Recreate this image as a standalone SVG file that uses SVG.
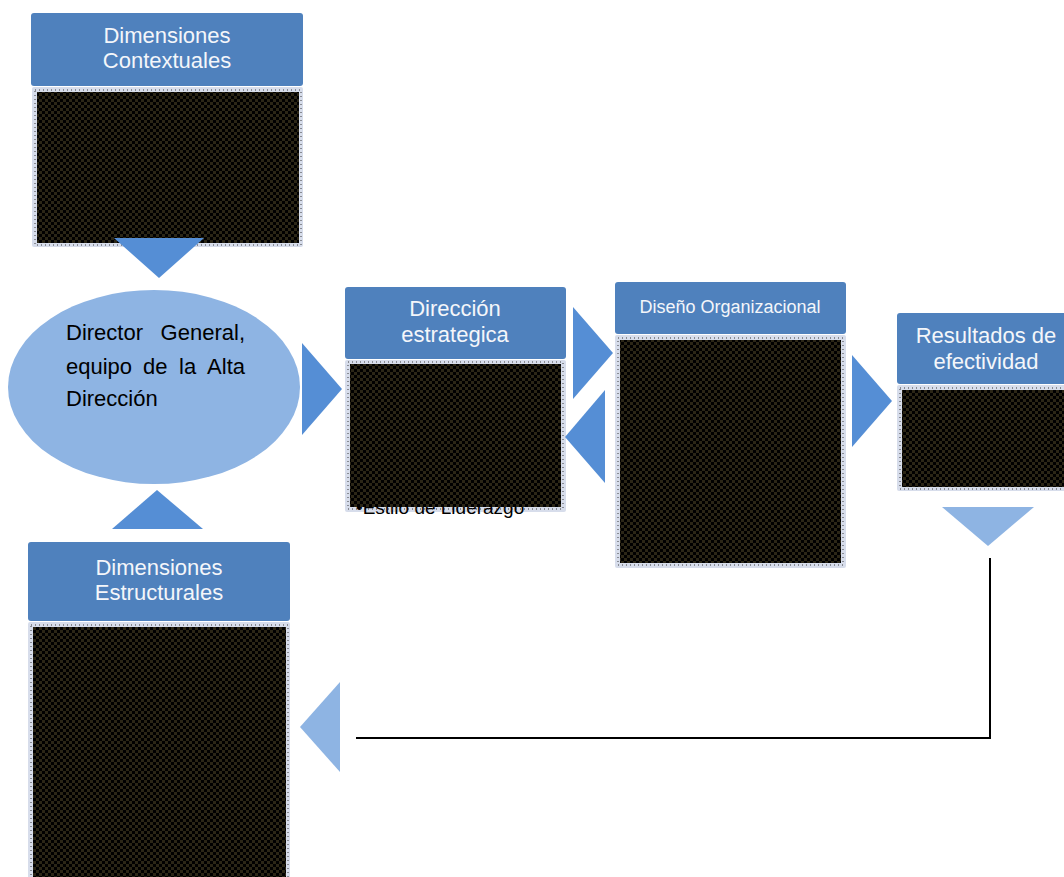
<svg xmlns="http://www.w3.org/2000/svg" width="1064" height="877" viewBox="0 0 1064 877">
<style>
.hdr{fill:#4f81bd;}
.ht{font-family:"Liberation Sans",Arial,sans-serif;font-size:22px;fill:#f4f6fa;text-anchor:middle;}
.body{fill:#d7ddeb;}
.blk{fill:url(#chk);}
.dot{fill:none;stroke:#3a3a3a;stroke-width:1;stroke-dasharray:1 3;}
.tri{fill:#558ed5;}
.tril{fill:#8eb4e3;}
.et{font-family:"Liberation Sans",Arial,sans-serif;font-size:22px;fill:#000;}
</style>
<defs>
<pattern id="chk" width="6" height="6" patternUnits="userSpaceOnUse">
<rect width="6" height="6" fill="#000"/>
<rect width="3" height="3" fill="#2b2616"/>
<rect x="3" y="3" width="3" height="3" fill="#2b2616"/>
</pattern>
</defs>
<rect width="1064" height="877" fill="#fff"/>

<g id="contextuales">
<rect class="hdr" x="31" y="13" width="272" height="73" rx="3"/>
<text class="ht" x="167" y="43">Dimensiones</text>
<text class="ht" x="167" y="68">Contextuales</text>
<rect class="body" x="32" y="87" width="271" height="160" rx="2"/>
<rect class="blk" x="37" y="92" width="262" height="151"/>
<rect class="dot" x="35" y="90" width="266" height="155"/>
</g>

<g id="director">
<ellipse cx="154" cy="387" rx="146" ry="97" fill="#8eb4e3"/>
<text class="et" x="66" y="340">Director</text>
<text class="et" x="245" y="340" text-anchor="end">General,</text>
<text class="et" y="374"><tspan x="66">equipo</tspan><tspan x="143">de</tspan><tspan x="179">la</tspan></text>
<text class="et" x="245" y="374" text-anchor="end">Alta</text>
<text class="et" x="66" y="406">Dirección</text>
</g>

<g id="direccion">
<rect class="hdr" x="345" y="287" width="221" height="72" rx="3"/>
<text class="ht" x="455" y="316">Dirección</text>
<text class="ht" x="455" y="342">estrategica</text>
<rect class="body" x="345" y="360" width="221" height="152" rx="2"/>
<text font-family="Liberation Sans,Arial,sans-serif" font-size="19" fill="#000" x="356" y="514">•Estilo de Liderazgo</text>
<rect class="blk" x="350" y="364" width="211" height="143"/>
<rect class="dot" x="348" y="362" width="215" height="147"/>
</g>

<g id="diseno">
<rect class="hdr" x="615" y="282" width="231" height="52" rx="3"/>
<text class="ht" x="730" y="313" style="font-size:18px">Diseño Organizacional</text>
<rect class="body" x="615" y="335" width="231" height="233" rx="2"/>
<rect class="blk" x="620" y="340" width="221" height="223"/>
<rect class="dot" x="618" y="338" width="225" height="227"/>
</g>

<g id="resultados">
<rect class="hdr" x="897" y="313" width="172" height="71" rx="3"/>
<text class="ht" x="986" y="343">Resultados de</text>
<text class="ht" x="986" y="369">efectividad</text>
<rect class="body" x="897" y="385" width="172" height="106" rx="2"/>
<rect class="blk" x="902" y="390" width="167" height="97"/>
<rect class="dot" x="900" y="388" width="170" height="101"/>
</g>

<g id="estructurales">
<rect class="hdr" x="28" y="542" width="262" height="79" rx="3"/>
<text class="ht" x="159" y="575">Dimensiones</text>
<text class="ht" x="159" y="600">Estructurales</text>
<rect class="body" x="28" y="622" width="262" height="260" rx="2"/>
<rect class="blk" x="33" y="627" width="253" height="255"/>
<rect class="dot" x="31" y="625" width="257" height="260"/>
</g>

<g id="connectors">
<polygon class="tri" points="114,238 204,238 159,278"/>
<polygon class="tri" points="112,529 157,490 203,529"/>
<polygon class="tri" points="302,343 342,389 302,435"/>
<polygon class="tri" points="573,307 613,353 573,399"/>
<polygon class="tri" points="605,390 565,437 605,483"/>
<polygon class="tri" points="852,355 892,401 852,447"/>
<polygon class="tril" points="942,507 1034,507 988,546"/>
<polyline points="990,558 990,738 356,738" fill="none" stroke="#000" stroke-width="2"/>
<polygon class="tril" points="340,682 300,727 340,772"/>
</g>
</svg>
